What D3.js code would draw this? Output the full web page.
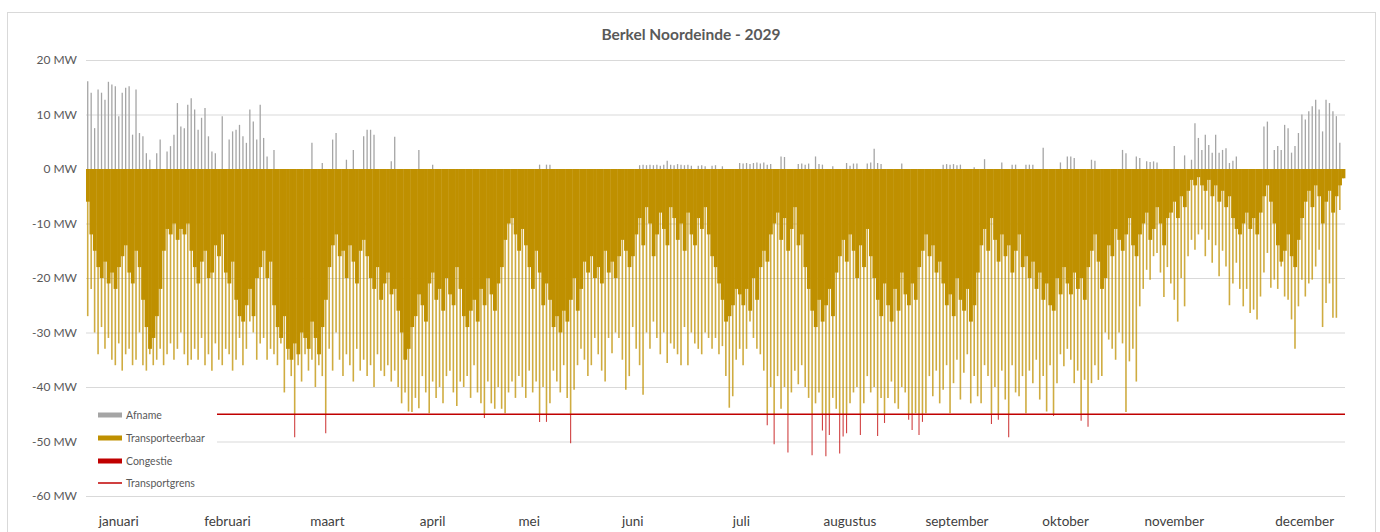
<!DOCTYPE html>
<html><head><meta charset="utf-8">
<script src="https://cdn.jsdelivr.net/npm/d3@7"></script>
<style>
html,body{margin:0;padding:0;background:#fff;}
svg{display:block;font-family:Lato,"Open Sans","Noto Sans",sans-serif;}
</style></head><body>
<svg id="chart" width="1380" height="532"></svg>
<script>
const title = "Berkel Noordeinde - 2029";
const months = ["januari","februari","maart","april","mei","juni","juli","augustus","september","oktober","november","december"];
const monthLabelDay = [9.5,41,70,100.5,128.5,158.5,190,221.5,252.5,284,315.5,353.3];
const yTicks = [20,10,0,-10,-20,-30,-40,-50,-60];
const yTickLabels = ["20 MW","10 MW","0 MW","-10 MW","-20 MW","-30 MW","-40 MW","-50 MW","-60 MW"];
const transportgrens = -45;
const seriesNames = ["Afname","Transporteerbaar","Congestie","Transportgrens"];

// daily maximum of Afname (MW), per day of the year
const afnameMax = [
 16.1,14,7.5,14.6,14,12.7,16,15.5,15.2,9.7,14,14.9,15.2,6.3,14.6,6.6,6,2.9,1.7,0,2.9,5.4,0,3.2,4.2,6.3,12.1,7.8,7.5,11.8,13,
 10.9,7.2,9.4,11.2,6,3.2,2.9,0,9.7,0,5.4,6.9,7.2,8.1,6,4.8,10.9,8.7,5.4,11.8,5.7,2.3,0,3.5,0,0,0,0,
 0,0,0,0,0,0,4.8,0,0,1.1,0,0,5.4,6.6,0,0,1.7,0,3.5,0,0,6,7.2,7.2,6.3,0,0,0,0,1.4,5.9,
 0,0,0,0,0,0,3.5,0,0,0,0.8,0,0,0,0,0,0,0,0,0,0,0,0,0,0,0,0,0,0,0,
 0,0,0,0,0,0,0,0,0,0,0,0.8,0,0.8,0.8,0,0,0,0,0,0,0,0,0,0,0,0,0,0,0,0,
 0,0,0,0,0,0,0,0,0,0.7,0.8,0.7,0.8,0.7,0.8,0.6,0.8,1.5,0.8,0.7,0.9,0.8,0.7,0.8,0.6,0,0.6,0.7,0.5,0,
 0.6,0.7,0,0.5,0,0,0,0,1.1,1,1.1,0.9,1.1,1.2,1,1.2,0.8,0.9,0,0,2.3,2.2,0,0,0,0.9,1,0.8,1,0,2.3,
 0.9,0.8,0,0,0.5,0,0,0,1.1,0.6,1,1,0,0,1,1.2,3.7,1.1,0.9,0,0,0,0,0,1,0,0,0,0,0,0,
 0,0,0,0,0,0.8,0.9,0.8,0.9,0.7,0.8,0,0,0,0.3,0,0,1.8,0,0,0,0,1.2,0,0,0.8,0.8,0,0,0.8,
 0.8,0.8,0,0,3.9,0,0,0,0,1.2,0,2.3,2.3,2,0,0,0,0,1.7,1.5,0,0,0,0,0,0,0,3.5,2.9,0,0,
 2.3,2,0,1.4,1.3,1.4,1.2,0,0,0,0,4.2,0,0,2.5,0,1.7,8.4,5.7,3.5,6.3,4.4,3,6.3,3,3.5,3.8,1.1,1.5,2.3,
 0,0,0,0,0,0,0,7.8,8.7,0,3.5,4.2,3.5,8.1,7.5,3,4.2,6.6,10,9.1,10.6,11.5,12.7,10.9,6.9,12.7,12.1,10.6,9.7,4.8,0
];

// level (MW) that the feed-in stays beyond for most hours of the day
const transportSolid = [
 -6,-12,-15,-18,-20,-17,-21,-19,-22,-18,-16,-14,-19,-21,-15,-18,-24,-29,-33,-31,-27,-22,-15,-11,-12,-10,-13,-11,-12,-10,-15,
 -18,-21,-17,-15,-20,-19,-14,-16,-12,-19,-21,-17,-24,-27,-28,-25,-22,-27,-20,-18,-15,-20,-17,-25,-29,-31,-27,-33,
 -35,-32,-34,-30,-31,-33,-28,-31,-34,-29,-24,-18,-14,-12,-16,-15,-20,-14,-17,-21,-15,-13,-16,-20,-22,-18,-24,-21,-19,-23,-22,
 -26,-30,-35,-33,-29,-27,-23,-25,-28,-21,-19,-24,-22,-26,-20,-23,-25,-18,-22,-27,-29,-26,-24,-28,-22,-25,-20,-23,-26,-21,
 -18,-13,-10,-9,-12,-15,-11,-14,-18,-22,-15,-19,-25,-21,-24,-29,-27,-30,-26,-28,-24,-20,-26,-22,-17,-19,-16,-20,-18,-21,-15,
 -19,-17,-20,-16,-13,-15,-18,-16,-12,-9,-14,-7,-10,-16,-12,-8,-11,-14,-7,-9,-13,-10,-15,-8,-12,-14,-9,-11,-7,-12,
 -16,-18,-21,-24,-28,-27,-25,-22,-23,-25,-22,-26,-20,-24,-18,-15,-17,-12,-10,-8,-13,-9,-15,-11,-7,-14,-12,-18,-22,-26,-29,
 -24,-28,-25,-22,-27,-19,-16,-13,-17,-12,-15,-20,-14,-18,-11,-16,-20,-24,-27,-21,-25,-28,-22,-26,-19,-23,-25,-21,-24,-18,-15,
 -12,-16,-14,-19,-17,-21,-25,-23,-27,-20,-24,-26,-22,-28,-25,-19,-14,-11,-15,-9,-13,-17,-12,-16,-14,-19,-15,-12,-18,-16,
 -20,-17,-22,-19,-24,-21,-25,-26,-20,-23,-18,-21,-23,-19,-22,-20,-24,-18,-15,-12,-17,-22,-20,-14,-16,-11,-13,-15,-12,-9,-14,
 -16,-12,-10,-8,-13,-11,-7,-10,-14,-9,-8,-6,-9,-5,-7,-4,-2,-3,-1.5,-3,-4,-2,-5,-3,-6,-4,-7,-5,-9,-11,
 -12,-10,-8,-11,-9,-12,-8,-5,-3,-6,-10,-14,-17,-15,-12,-16,-18,-13,-9,-6,-4,-7,-3,-5,-10,-6,-4,-8,-5,-3,-1.7
];

// daily peak feed-in (MW, negative)
const transportPeak = [
 -27,-22,-30,-34,-29,-33,-31,-35,-36,-32,-37,-34,-33,-36,-35,-30,-36,-37,-34,-36,-35,-33,-36,-34,-32,-35,-33,-30,-34,-36,-35,
 -33,-35,-31,-36,-34,-37,-32,-35,-36,-33,-34,-37,-35,-31,-36,-33,-28,-30,-35,-32,-31,-35,-33,-34,-36,-32,-41,-35,
 -38,-49.2,-36,-39,-34,-37,-35,-40,-36,-38,-48.5,-33,-37,-30,-35,-38,-34,-36,-39,-33,-37,-35,-38,-36,-40,-34,-37,-38,-36,-39,-37,
 -40,-43,-41,-44.5,-44.6,-42,-43.9,-38,-41,-44.8,-39,-42,-40,-43,-38,-37,-41,-43.5,-39,-40,-38,-42,-36,-41,-43,-45.7,-39,-43,-44,-40,
 -44,-44.8,-41,-39,-42,-38,-40,-42,-37,-41,-39,-46.4,-40,-46.4,-43,-37,-39,-41,-36,-42,-50.3,-40.5,-36,-33,-35,-38,-36,-31,-34,-37,-39,
 -31,-33.8,-30,-31,-35,-40.5,-38,-29,-33,-36,-41.4,-30,-33,-28,-31,-34,-30,-35.6,-32,-33,-34,-36,-29,-36,-30,-32,-33,-34,-30,-31,
 -33,-31,-34,-32.5,-38,-43.8,-41.7,-35,-33,-36,-33,-28,-31,-33,-34,-37,-47,-40,-50.5,-38,-44,-40,-52,-41,-37,-39.5,-36,-40,-42,-52.5,-43,
 -41,-48,-52.7,-48.8,-42,-44,-52.2,-49.1,-48.5,-43,-41,-40,-48.8,-43,-38,-41,-40,-49,-42,-46.6,-42,-39,-43,-44,-40,-41,-46,-47.9,-44.8,-48.8,-46.4,
 -44.8,-38,-41.7,-37,-43,-40.5,-36,-44.8,-39.3,-35,-42.3,-37.4,-34,-43,-38,-41.7,-43,-36,-38,-46.8,-40,-46,-37,-42.3,-49.2,-36,-41,-41.7,-38,-44.8,
 -37,-39.3,-35,-42.3,-38,-44.5,-36,-45.3,-39.3,-34,-36.2,-33,-35,-39.3,-37,-46.2,-38.7,-47.3,-39.3,-36,-38.7,-38,-30,-31.3,-33,-35,-30,-32,-44.6,-35.3,-33,
 -39,-25.2,-22,-18.5,-20.3,-16,-15.4,-19,-23.5,-18,-21,-24,-28,-20,-25.2,-16,-13,-14.8,-12,-11.1,-16,-13,-17.2,-14,-19.7,-15,-17.9,-25,-21,-17.2,
 -22,-25.2,-22,-26.4,-25.8,-27.6,-23.4,-19,-15.4,-21.8,-20.3,-22,-17.9,-23.4,-24,-27.6,-33,-25.2,-20.3,-23.4,-21,-20.3,-17.9,-14.8,-29,-24.6,-21,-27.3,-27.3,-7.5,-1.7
];

const colors = {afname:"#A5A5A5", transport:"#BF9000", congestie:"#C00000", grens:"#C00000", grid:"#D9D9D9", text:"#595959"};

const svg = d3.select("#chart");
const x = d3.scaleLinear().domain([0, 365]).range([86, 1345]);
const y = d3.scaleLinear().domain([-60, 20]).range([496, 60]);

// outer border
svg.append("rect").attr("x",7.5).attr("y",12.5).attr("width",1368).attr("height",540)
  .attr("fill","#fff").attr("stroke","#D9D9D9");

// title
svg.append("text").attr("x",691).attr("y",40).attr("text-anchor","middle")
  .attr("font-size","15.5px").attr("font-weight","bold").attr("fill",colors.text).text(title);

// y axis + gridlines
const yAxis = d3.axisLeft(y).tickValues(yTicks).tickSize(-(x.range()[1]-x.range()[0]))
  .tickPadding(9).tickFormat((d,i)=>yTickLabels[i]);
const gy = svg.append("g").attr("transform",`translate(${x.range()[0]},0)`).call(yAxis);
gy.select(".domain").remove();
gy.selectAll(".tick line").attr("stroke",colors.grid).attr("stroke-width",1);
gy.selectAll(".tick text").attr("fill",colors.text).attr("font-size","12px").attr("font-family","Lato,'Open Sans',sans-serif");

const days = d3.range(365).map(i => ({i, max: afnameMax[i], solid: transportSolid[i], peak: transportPeak[i]}));

// Afname (positive)
svg.append("g").selectAll("line").data(days.filter(d=>d.max>0)).join("line")
  .attr("x1",d=>x(d.i+0.5)).attr("x2",d=>x(d.i+0.5))
  .attr("y1",y(0)).attr("y2",d=>y(d.max))
  .attr("stroke",colors.afname).attr("stroke-width",1.3);

// Transporteerbaar: daily peak lines
svg.append("g").selectAll("line").data(days).join("line")
  .attr("x1",d=>x(d.i+0.5)).attr("x2",d=>x(d.i+0.5))
  .attr("y1",y(0)).attr("y2",d=>y(Math.max(d.peak, transportgrens)))
  .attr("stroke",colors.transport).attr("stroke-width",1.6).attr("stroke-opacity",0.75);

// Transporteerbaar: bulk of the hours
svg.append("g").selectAll("rect").data(days).join("rect")
  .attr("x",d=>x(d.i)).attr("width",d=>x(d.i+1)-x(d.i)+0.4)
  .attr("y",y(0)).attr("height",d=>y(d.solid)-y(0))
  .attr("fill",colors.transport);

// Congestie
svg.append("g").selectAll("line").data(days.filter(d=>d.peak<transportgrens)).join("line")
  .attr("x1",d=>x(d.i+0.5)).attr("x2",d=>x(d.i+0.5))
  .attr("y1",y(transportgrens)).attr("y2",d=>y(d.peak))
  .attr("stroke",colors.congestie).attr("stroke-width",1.1).attr("stroke-opacity",0.75);

// Transportgrens
svg.append("line").attr("x1",x(0)).attr("x2",x(365))
  .attr("y1",y(transportgrens)).attr("y2",y(transportgrens))
  .attr("stroke",colors.grens).attr("stroke-width",1.5);

// month labels
svg.append("g").selectAll("text").data(months).join("text")
  .attr("x",(d,i)=>x(monthLabelDay[i])).attr("y",526).attr("text-anchor","middle")
  .attr("font-size","13.5px").attr("fill","#404040").text(d=>d);

// legend
const lg = svg.append("g");
lg.append("rect").attr("x",85).attr("y",394).attr("width",132).attr("height",99).attr("fill","#fff");
const ly = [415, 438, 461, 483];
seriesNames.forEach((name,i)=>{
  if (i < 3) {
    lg.append("rect").attr("x",98).attr("y",ly[i]-2.5).attr("width",24).attr("height",5)
      .attr("fill",[colors.afname,colors.transport,colors.congestie][i]);
  } else {
    lg.append("line").attr("x1",98).attr("x2",122).attr("y1",ly[i]).attr("y2",ly[i])
      .attr("stroke",colors.grens).attr("stroke-width",1.5);
  }
  lg.append("text").attr("x",126).attr("y",ly[i]+3.7).attr("font-size","10.5px")
    .attr("fill",colors.text).text(name);
});
</script>
</body></html>
